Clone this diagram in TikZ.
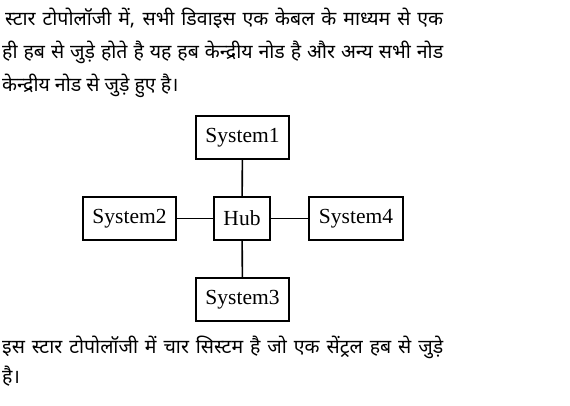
\documentclass[tikz,border=0pt]{standalone}
\usepackage{fontspec}
\setmainfont{Liberation Serif}
\newfontfamily\hindi[Script=Devanagari]{Noto Sans}
\begin{document}
\begin{tikzpicture}[x=1pt,y=-1pt,
  sysbox/.style={draw,line width=1.6pt,inner sep=0pt,font=\fontsize{21.5}{24}\selectfont},
  conn/.style={line width=1.6pt},
  hin/.style={anchor=base west,inner sep=0pt,font=\hindi\fontsize{19.5}{22}\selectfont}]
\useasboundingbox (0,0) rectangle (570,405);
% top paragraph
\node[hin] (t1) at (5,25) {\makebox[438pt][s]{स्टार टोपोलॉजी में, सभी डिवाइस एक केबल के माध्यम से एक}};
\node[hin] (t2) at (2,58) {\makebox[441pt][s]{ही हब से जुड़े होते है यह हब केन्द्रीय नोड है और अन्य सभी नोड}};
\node[hin] (t3) at (2,91) {केन्द्रीय नोड से जुड़े हुए है।};
% diagram
\node[sysbox,minimum width=93pt,minimum height=43pt] (s1) at (242.5,137.5) {System1};
\node[sysbox,minimum width=93pt,minimum height=43pt] (s2) at (129.5,218.5) {System2};
\node[sysbox,minimum width=56pt,minimum height=43pt] (hub) at (242,218.5) {Hub};
\node[sysbox,minimum width=94pt,minimum height=43pt] (s4) at (356,218.5) {System4};
\node[sysbox,minimum width=93pt,minimum height=43pt] (s3) at (242.5,299.5) {System3};
\draw[conn] (s1) -- (hub);
\draw[conn] (hub) -- (s3);
\draw[conn] (s2) -- (hub);
\draw[conn] (hub) -- (s4);
% bottom paragraph
\node[hin] (b1) at (2,353) {\makebox[441pt][s]{इस स्टार टोपोलॉजी में चार सिस्टम है जो एक सेंट्रल हब से जुड़े}};
\node[hin] (b2) at (2,383) {है।};
\end{tikzpicture}
\end{document}
